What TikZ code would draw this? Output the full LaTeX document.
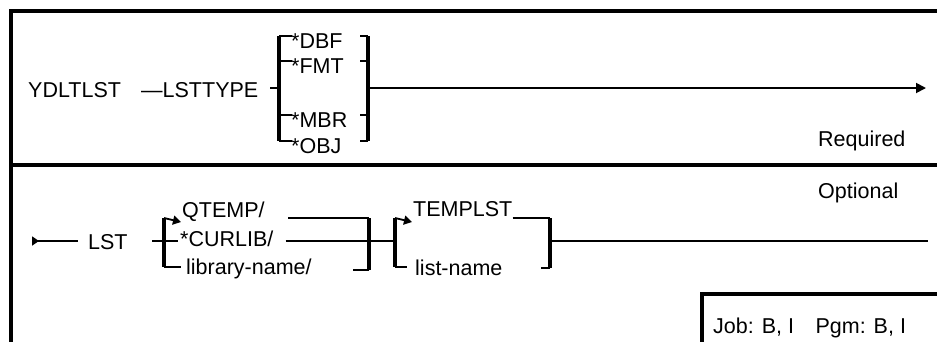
\documentclass[tikz,border=0pt]{standalone}
\usepackage{fontspec}
\setmainfont{Liberation Sans}
\usetikzlibrary{arrows.meta, positioning, math}

\begin{document}
\begin{tikzpicture}[x=1pt, y=-1pt,
  font=\fontsize{21.5}{24}\selectfont,
  conn/.style={line width=1.8},
  brack/.style={line width=4.4},
  frame/.style={line width=3.2},
  lbl/.style={inner sep=0pt, anchor=base west}]
\tikzmath{
\ya=88;%required row
\yb=241;%optional row
}
\useasboundingbox (0,0) rectangle (937,341);

%frame
\coordinate (F1) at (11,343);
\coordinate (F2) at (11,11);
\coordinate (F3) at (940,11);
\coordinate (D1) at (11,165);
\coordinate (D2) at (940,165);
\draw[frame] (F1) -- (F2) -- (F3);
\draw[frame] (D1) -- (D2);

%required row
\node[lbl] (cmd) at (28,97) {YDLTLST};
\node[lbl] (lsttype) at (141,97) {\textemdash LSTTYPE};
\coordinate (in1) at (270,\ya);
\coordinate (lb1) at (279,\ya);
\coordinate (rb1) at (368,\ya);
\coordinate (end1) at (926,\ya);
\foreach \opt/\yy [count=\i] in {DBF/48, FMT/73, MBR/127, OBJ/153} {
  \node[lbl] (opt\i) at (291,\yy) {*\opt};
  \coordinate (L\i) at (279,\yy-12);
  \coordinate (R\i) at (368,\yy-12);
  \draw[conn] (L\i) -- ([xshift=1]opt\i.west |- L\i);
  \draw[conn] (R\i) -- +(-8,0);
}
\draw[brack] (L1) -- (L4);
\draw[brack] (R1) -- (R4);
\draw[conn] (in1) -- (lb1);
\draw[conn, -{Triangle[length=10,width=10]}] (rb1) -- (end1);
\node[lbl] (req) at (818,146) {Required};

%optional row
\coordinate (s2) at (32,\yb);
\node[lbl] (lst) at (88,249) {LST};
\draw[conn, {Triangle[reversed,length=7,width=9]}-] (s2) -- ([xshift=-10]lst.west |- s2);
\node[lbl] (qtemp) at (182,217) {QTEMP/};
\node[lbl] (curlib) at (180,246) {*CURLIB/};
\node[lbl] (libname) at (186,274) {library-name/};
\coordinate (lb2t) at (164,218);
\coordinate (lb2b) at (164,267);
\coordinate (rb2t) at (369,218);
\coordinate (rb2b) at (369,270);
\coordinate (in2) at (152,\yb);
\draw[brack] (lb2t) -- (lb2b);
\draw[brack] (rb2t) -- (rb2b);
\draw[conn, -{Triangle[length=8,width=9]}] (lb2t) -- ([xshift=-1,yshift=-4]qtemp.west |- lb2t);
\draw[conn] (in2) -- ([xshift=-2]curlib.west |- in2);
\draw[conn] (lb2b) -- ([xshift=-5]libname.west |- lb2b);
\draw[conn] ([xshift=106]qtemp.west |- rb2t) -- (rb2t);
\draw[conn] ([xshift=12]curlib.east |- in2) -- (rb2t |- in2);
\draw[conn] (rb2b) -- +(-16,0);

%list part
\node[lbl] (templst) at (413,216) {TEMPLST};
\node[lbl] (lstname) at (415,275) {list-name};
\coordinate (lb3t) at (395,218);
\coordinate (lb3b) at (395,267);
\coordinate (rb3t) at (550,218);
\coordinate (rb3b) at (550,268);
\coordinate (end2) at (928,\yb);
\draw[brack] (lb3t) -- (lb3b);
\draw[brack] (rb3t) -- (rb3b);
\draw[conn] (rb2t |- in2) -- (lb3t |- in2);
\draw[conn, -{Triangle[length=8,width=9]}] (lb3t) -- ([xshift=-1,yshift=-4]templst.west |- lb3t);
\draw[conn] (lb3b) -- ([xshift=-8]lstname.west |- lb3b);
\draw[conn] (templst.east |- rb3t) -- (rb3t);
\draw[conn] (rb3b) -- +(-9,0);
\draw[conn] (rb3t |- in2) -- (end2);
\node[lbl] (opt) at (818,198) {Optional};

%job box
\coordinate (J1) at (702,343);
\coordinate (J2) at (702,294);
\coordinate (J3) at (940,294);
\draw[frame] (J1) -- (J2) -- (J3);
\node[lbl] (job) at (713,333) {Job: B, I\quad Pgm: B, I};
\end{tikzpicture}
\end{document}
